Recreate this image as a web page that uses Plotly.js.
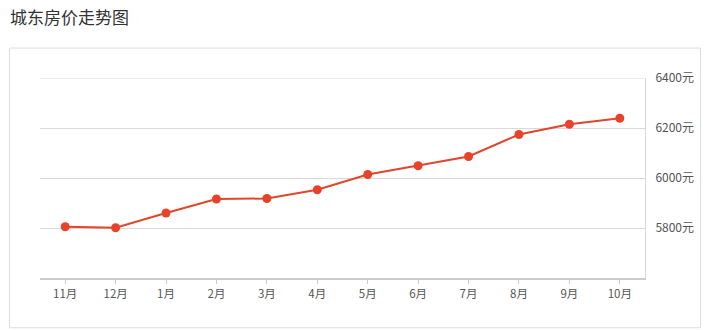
<!DOCTYPE html>
<html><head><meta charset="utf-8">
<script src="https://cdn.plot.ly/plotly-3.0.1.min.js"></script>
<style>html,body{margin:0;padding:0;background:#fff;}#chart{width:711px;height:330px;}</style>
</head><body><div id="chart"></div>
<script>
const months = ['11月','12月','1月','2月','3月','4月','5月','6月','7月','8月','9月','10月'];
const prices = [5805, 5801, 5860, 5916, 5918, 5953, 6014, 6049, 6086, 6174, 6215, 6239];
const yTicks = [5800, 6000, 6200, 6400];
const yTickText = ['5800元', '6000元', '6200元', '6400元'];
const chartTitle = '城东房价走势图';

const W = 711, H = 330, L = 40, R = 645, T = 77.5, B = 277.7;
const px = x => (x - L) / (R - L);
const py = y => (B - y) / (B - T);

const trace = {
  x: months, y: prices, type: 'scatter', mode: 'lines+markers',
  line: {color: '#e0462a', width: 2},
  marker: {color: '#e8432a', size: 9},
  hoverinfo: 'x+y'
};
const layout = {
  width: W, height: H,
  margin: {l: L, r: W - R, t: T, b: H - B, pad: 0},
  paper_bgcolor: '#fff', plot_bgcolor: '#fff',
  font: {family: '"Noto Sans CJK SC", "Noto Sans", sans-serif', color: '#555', size: 11},
  showlegend: false,
  title: {text: chartTitle, xref: 'container', yref: 'container', x: 10 / W, xanchor: 'left', y: 1 - 18 / H, yanchor: 'middle',
          font: {size: 17, color: '#333', family: '"Noto Sans CJK SC", sans-serif'}},
  xaxis: {type: 'category', range: [-0.5, 11.5], showgrid: false, zeroline: false,
          showline: true, linecolor: '#ccc', linewidth: 2,
          ticks: 'outside', ticklen: 4, tickcolor: '#ccc', tickfont: {size: 11.5, color: '#555'}, fixedrange: true},
  yaxis: {side: 'right', range: [5600, 6400], tickmode: 'array', tickvals: yTicks, ticktext: yTickText,
          showgrid: true, gridcolor: '#d9d9d9', gridwidth: 1, zeroline: false,
          showline: true, linecolor: '#d9d9d9', linewidth: 1, ticks: '', ticklabelstandoff: 7,
          tickfont: {size: 12, color: '#555'}, fixedrange: true},
  shapes: [
    {type: 'rect', xref: 'paper', yref: 'paper', x0: px(9.5), x1: px(700.5), y0: py(327.5), y1: py(47.5),
     line: {color: '#ddd', width: 1}, layer: 'below'},
    {type: 'line', xref: 'paper', yref: 'y', x0: 0, x1: 1, y0: 6400, y1: 6400,
     line: {color: '#d9d9d9', width: 1}, layer: 'below'}
  ]
};
Plotly.newPlot('chart', [trace], layout, {displayModeBar: false, staticPlot: true});
</script></body></html>
